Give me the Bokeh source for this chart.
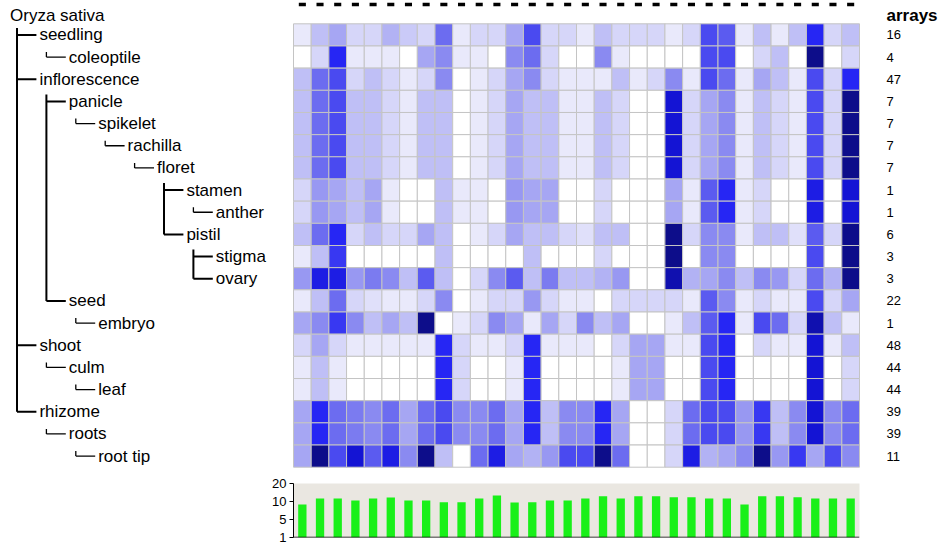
import numpy as np
from bokeh.plotting import figure
from bokeh.models import Range1d, ColumnDataSource, LinearColorMapper, FixedTicker, Span
from bokeh.layouts import column
from bokeh.embed import file_html
from bokeh.resources import INLINE
from bokeh.core.properties import value

# ---- anatomy tree (rows) ----
root_label = "Oryza sativa"
tissues = ["seedling", "coleoptile", "inflorescence", "panicle", "spikelet",
           "rachilla", "floret", "stamen", "anther", "pistil", "stigma",
           "ovary", "seed", "embryo", "shoot", "culm", "leaf", "rhizome",
           "roots", "root tip"]
depths = [1, 2, 1, 2, 3, 4, 5, 6, 7, 6, 7, 7, 2, 3, 1, 2, 3, 1, 2, 3]
arrays = [16, 4, 47, 7, 7, 7, 7, 1, 1, 6, 3, 3, 22, 1, 48, 44, 44, 39, 39, 11]

# ---- expression level per tissue (percent of potential), 32 genes each ----
seedling      = [10, 30, 40, 20, 20, 35, 25, 20, 60, 10, 20, 20, 40, 70, 20, 20, 10, 30, 20, 20, 20, 10, 20, 70, 65, 10, 30, 10, 30, 80, 20, 30]
coleoptile    = [0, 20, 80, 10, 10, 10, 0, 40, 50, 10, 10, 0, 50, 60, 20, 0, 0, 50, 10, 0, 0, 0, 0, 70, 70, 0, 20, 30, 0, 100, 0, 20]
inflorescence = [30, 60, 70, 20, 30, 20, 10, 20, 50, 0, 10, 20, 40, 50, 20, 10, 10, 10, 30, 10, 20, 50, 10, 70, 60, 10, 40, 30, 10, 70, 20, 80]
panicle       = [30, 60, 70, 30, 30, 20, 10, 30, 30, 0, 10, 20, 40, 30, 30, 10, 10, 30, 20, 0, 0, 90, 20, 40, 50, 10, 30, 20, 10, 70, 20, 100]
spikelet      = [30, 60, 70, 30, 30, 20, 10, 30, 30, 0, 10, 20, 40, 30, 30, 10, 10, 30, 20, 0, 0, 90, 20, 40, 50, 10, 30, 20, 10, 70, 20, 100]
rachilla      = [30, 60, 70, 30, 30, 20, 10, 30, 30, 0, 10, 20, 40, 30, 30, 10, 10, 30, 20, 0, 0, 90, 20, 40, 50, 10, 30, 20, 10, 70, 20, 100]
floret        = [30, 60, 70, 30, 30, 20, 10, 30, 30, 0, 10, 20, 40, 30, 30, 10, 10, 30, 20, 0, 0, 90, 20, 40, 50, 10, 30, 20, 10, 70, 20, 100]
stamen        = [20, 45, 40, 30, 40, 10, 0, 0, 30, 10, 10, 0, 45, 40, 40, 0, 0, 20, 0, 0, 0, 40, 10, 65, 80, 10, 20, 0, 0, 85, 0, 90]
anther        = [20, 45, 40, 30, 40, 10, 0, 0, 30, 10, 10, 0, 45, 40, 40, 0, 0, 20, 0, 0, 0, 40, 10, 65, 80, 10, 20, 0, 0, 85, 0, 90]
pistil        = [30, 60, 80, 20, 30, 20, 20, 40, 30, 0, 10, 20, 40, 30, 30, 20, 15, 30, 30, 0, 0, 100, 20, 50, 50, 10, 30, 30, 15, 65, 20, 100]
stigma        = [10, 30, 75, 0, 0, 0, 0, 0, 30, 0, 0, 0, 0, 30, 0, 0, 0, 20, 0, 0, 0, 100, 0, 50, 50, 0, 0, 0, 0, 70, 0, 100]
ovary         = [45, 85, 85, 45, 55, 50, 30, 65, 30, 0, 20, 50, 65, 30, 55, 30, 30, 35, 45, 0, 0, 95, 35, 40, 50, 30, 50, 45, 20, 60, 35, 100]
seed          = [10, 30, 60, 20, 15, 10, 10, 20, 50, 0, 10, 20, 20, 45, 20, 10, 10, 0, 20, 20, 20, 20, 10, 65, 50, 10, 20, 10, 10, 70, 20, 40]
embryo        = [40, 50, 75, 50, 30, 40, 30, 100, 0, 10, 20, 50, 40, 10, 40, 20, 50, 30, 40, 0, 0, 10, 30, 65, 80, 10, 70, 60, 20, 95, 30, 10]
shoot         = [20, 40, 20, 10, 10, 10, 10, 10, 80, 20, 10, 10, 20, 80, 10, 10, 10, 0, 20, 40, 40, 10, 10, 70, 80, 0, 20, 10, 10, 90, 10, 30]
culm          = [10, 30, 10, 0, 0, 0, 0, 0, 80, 20, 0, 0, 10, 80, 0, 0, 0, 0, 10, 40, 40, 0, 0, 70, 80, 0, 0, 0, 0, 90, 0, 20]
leaf          = [10, 30, 10, 0, 0, 0, 0, 0, 80, 20, 0, 0, 10, 80, 0, 0, 0, 0, 10, 40, 40, 0, 0, 70, 80, 0, 0, 0, 0, 90, 0, 20]
rhizome       = [40, 80, 60, 55, 50, 60, 40, 60, 70, 50, 50, 60, 40, 80, 30, 50, 50, 80, 40, 0, 0, 20, 60, 70, 70, 45, 75, 30, 50, 90, 50, 60]
roots         = [40, 80, 60, 55, 50, 60, 40, 60, 70, 50, 50, 60, 40, 80, 30, 50, 50, 80, 40, 0, 0, 20, 60, 70, 70, 45, 75, 30, 50, 90, 50, 60]
root_tip      = [40, 100, 70, 90, 65, 85, 50, 100, 30, 0, 60, 85, 40, 35, 45, 70, 70, 100, 60, 0, 0, 20, 85, 35, 40, 50, 100, 45, 75, 40, 70, 50]

rows = [seedling, coleoptile, inflorescence, panicle, spikelet, rachilla, floret,
        stamen, anther, pistil, stigma, ovary, seed, embryo, shoot, culm, leaf,
        rhizome, roots, root_tip]

# ---- number of samples per gene (bottom bar chart) ----
gene_counts = [9.2, 11.7, 11.7, 10.6, 11.7, 12.2, 10.6, 10.6, 9.8, 9.8, 11.7, 13.3,
               9.7, 9.8, 10.6, 10.6, 11.7, 12.9, 11.7, 12.9, 12.9, 12.4, 12.4, 11.7,
               11.7, 9.2, 12.9, 12.9, 12.4, 11.7, 11.7, 11.7]
count_ticks = [1, 5, 10, 20]

# ---- page geometry (pixels) ----
W = 941
H_TOP, H_BOT = 470, 76
GRID_LEFT, GRID_TOP = 293.0, 23.3
N_COLS, N_ROWS = len(gene_counts), len(tissues)
CELL_W, CELL_H = 566.0 / N_COLS, 443.4 / N_ROWS
FONT = "Liberation Sans"

# white -> blue -> navy expression scale
anchors = ["#FFFFFF", "#E9E9FB", "#D6D6F9", "#BFBFF6", "#A6A6F3", "#8A8AF1",
           "#6C6CF0", "#4A4AF0", "#2626F4", "#1414D4", "#0D0D8A"]


def _rgb(h):
    return np.array([int(h[i:i + 2], 16) for i in (1, 3, 5)], dtype=float)


palette = []
for k in range(101):
    pos = k / 10.0
    i = min(int(pos), 9)
    f = pos - i
    c = _rgb(anchors[i]) * (1 - f) + _rgb(anchors[i + 1]) * f
    palette.append("#%02x%02x%02x" % tuple(int(round(v)) for v in c))
mapper = LinearColorMapper(palette=palette, low=0, high=100)

# ---- top figure: tree + heatmap + array counts ----
x_start = -(GRID_LEFT + CELL_W / 2) / CELL_W
y_top = -(GRID_TOP + CELL_H / 2) / CELL_H
y_bottom = (H_TOP - GRID_TOP - CELL_H / 2) / CELL_H


def row_of_px(py):
    return (py - GRID_TOP - CELL_H / 2) / CELL_H


p = figure(width=W, height=H_TOP, output_backend="svg", toolbar_location=None,
           x_range=Range1d(x_start, x_start + W / CELL_W),
           y_range=Range1d(y_bottom, y_top),
           x_axis_location=None, y_axis_location=None, min_border=0)
p.frame_align = False
p.extra_x_ranges = {"px": Range1d(0, W)}
p.outline_line_color = None
p.grid.visible = False

# heatmap cells
cx, cy, cv = [], [], []
for r, vals in enumerate(rows):
    for c, v in enumerate(vals):
        cx.append(c)
        cy.append(r)
        cv.append(v)
cells = ColumnDataSource(dict(x=cx, y=cy, v=cv))
p.rect(x="x", y="y", width=1, height=1, source=cells,
       fill_color={"field": "v", "transform": mapper},
       line_color="#C4C4C4", line_width=1)

# column markers above the grid
header_y = row_of_px(4)
cols = np.arange(N_COLS)
p.segment(x0=cols - 0.2, y0=[header_y] * N_COLS, x1=cols + 0.2, y1=[header_y] * N_COLS,
          line_color="black", line_width=3.5)

# tree labels
INDENT0, INDENT = 9.5, 29.4
label_y = row_of_px(15)
label_x = [INDENT0 + INDENT * d for d in depths]
p.text(x=[INDENT0], y=[label_y], text=[root_label], x_range_name="px",
       text_baseline="middle", text_font=value(FONT), text_font_size="17px",
       text_color="black")
p.text(x=label_x, y=list(range(N_ROWS)), text=tissues, x_range_name="px",
       text_baseline="middle", text_font=value(FONT), text_font_size="17px",
       text_color="black")

# tree connectors derived from depths
parent_of = []
last_at_depth = {0: -1}
for i, d in enumerate(depths):
    parent_of.append(last_at_depth[d - 1])
    last_at_depth[d] = i
children = {}
for i, par in enumerate(parent_of):
    children.setdefault(par, []).append(i)

for par, kids in children.items():
    pdepth = 0 if par < 0 else depths[par]
    vx = INDENT0 + INDENT * pdepth + 7.0
    lw = 2 if len(kids) > 1 else 1.3
    lead = (7.0 if len(kids) > 1 else 5.0) / CELL_H
    p.segment(x0=[vx], y0=[kids[0] - lead], x1=[vx], y1=[kids[-1]],
              x_range_name="px", line_color="black", line_width=lw)
    p.segment(x0=[vx] * len(kids), y0=kids,
              x1=[INDENT0 + INDENT * depths[k] - 3 for k in kids], y1=kids,
              x_range_name="px", line_color="black", line_width=lw)

# array counts column
ARR_X = 886
p.text(x=[ARR_X], y=[label_y], text=["arrays"], x_range_name="px",
       text_baseline="middle", text_font=value(FONT), text_font_size="17px",
       text_font_style="bold", text_color="black")
p.text(x=[ARR_X] * N_ROWS, y=list(range(N_ROWS)), text=[str(a) for a in arrays],
       x_range_name="px", text_baseline="middle", text_font=value(FONT),
       text_font_size="13px", text_color="black")

# ---- bottom figure: sample counts ----
tick_pos = list(range(len(count_ticks)))
bar_top = np.interp(gene_counts, count_ticks, tick_pos)

b = figure(width=W, height=H_BOT, output_backend="svg", toolbar_location=None,
           x_range=Range1d(-0.5, N_COLS - 0.5), y_range=Range1d(0, tick_pos[-1]),
           x_axis_location=None, min_border_left=int(GRID_LEFT),
           min_border_right=W - int(GRID_LEFT + 566), min_border_top=13,
           min_border_bottom=9)
b.frame_align = False
b.outline_line_color = None
b.grid.visible = False
b.background_fill_color = "#EAE7E1"
b.vbar(x=cols, top=bar_top, bottom=0, width=0.47, fill_color="#19F019",
       line_color=None)
b.add_layout(Span(location=0, dimension="width", line_color="black", line_width=1.5))

b.yaxis.ticker = FixedTicker(ticks=tick_pos)
b.yaxis.major_label_overrides = {t: str(v) for t, v in zip(tick_pos, count_ticks)}
b.yaxis.major_label_text_font = FONT
b.yaxis.major_label_text_font_size = "13px"
b.yaxis.major_label_text_color = "black"
b.yaxis.axis_line_color = "black"
b.yaxis.major_tick_line_color = "black"
b.yaxis.major_tick_out = 4
b.yaxis.major_tick_in = 0
b.yaxis.minor_tick_line_color = None
b.yaxis.major_label_standoff = 3

page = column(p, b, spacing=0)
open("out.html", "w").write(file_html(page, INLINE))
